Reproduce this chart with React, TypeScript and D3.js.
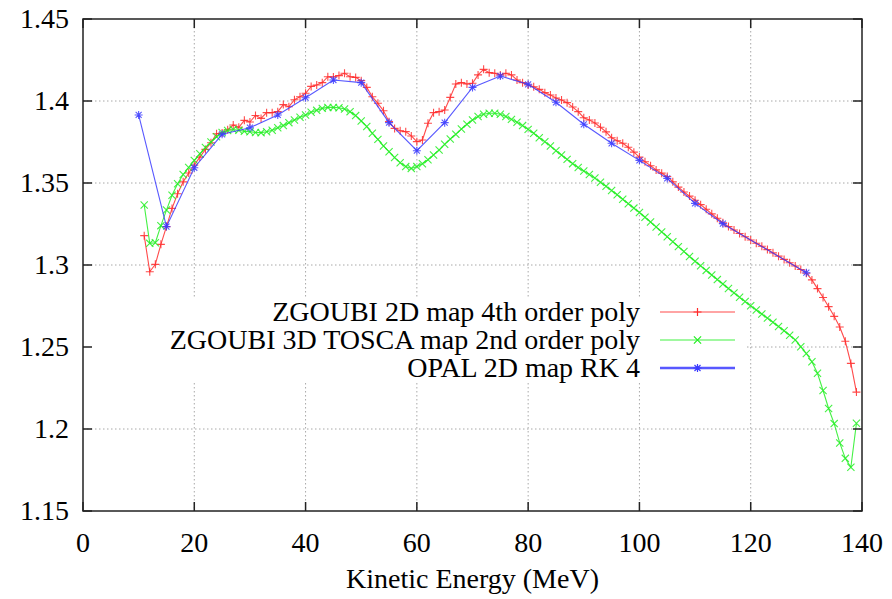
import React from "react";
import * as d3 from "d3";

const W = 892;
const H = 599;
const M = { left: 83, right: 30, top: 19, bottom: 88 };

const xTicks = [0, 20, 40, 60, 80, 100, 120, 140];
const yTicks = [1.15, 1.2, 1.25, 1.3, 1.35, 1.4, 1.45];
const yTickLabels = ["1.15", "1.2", "1.25", "1.3", "1.35", "1.4", "1.45"];

const seriesNames = [
  "ZGOUBI 2D map 4th order poly",
  "ZGOUBI 3D TOSCA map 2nd order poly",
  "OPAL 2D map RK 4",
];
const seriesColors = ["#ff2a2a", "#22ee22", "#3b3bff"];

const zgoubi2dEnergy = [
  11, 12, 13, 14, 15, 16, 17, 18, 19, 20, 21, 22, 23, 24, 25, 26, 27, 28, 29, 30,
  31, 32, 33, 34, 35, 36, 37, 38, 39, 40, 41, 42, 43, 44, 45, 46, 47, 48, 49, 50,
  51, 52, 53, 54, 55, 56, 57, 58, 59, 60, 61, 62, 63, 64, 65, 66, 67, 68, 69, 70,
  71, 72, 73, 74, 75, 76, 77, 78, 79, 80, 81, 82, 83, 84, 85, 86, 87, 88, 89, 90,
  91, 92, 93, 94, 95, 96, 97, 98, 99, 100, 101, 102, 103, 104, 105, 106, 107, 108, 109, 110,
  111, 112, 113, 114, 115, 116, 117, 118, 119, 120, 121, 122, 123, 124, 125, 126, 127, 128, 129, 130,
  131, 132, 133, 134, 135, 136, 137, 138, 139,
];
const zgoubi2dValue = [
  1.3179, 1.2959, 1.3004, 1.3126, 1.3234, 1.3345, 1.3434, 1.3507, 1.3561, 1.361,
  1.3658, 1.3705, 1.3745, 1.38, 1.3805, 1.3825, 1.3854, 1.384, 1.3882, 1.3872,
  1.3912, 1.3894, 1.3929, 1.3929, 1.3935, 1.3978, 1.3965, 1.4008, 1.4026, 1.4047,
  1.4089, 1.4098, 1.4112, 1.4148, 1.4146, 1.4155, 1.4169, 1.4148, 1.4144, 1.4124,
  1.4083, 1.4026, 1.3986, 1.3941, 1.3874, 1.3833, 1.3819, 1.3813, 1.3787, 1.3752,
  1.3762, 1.3864, 1.3929, 1.3935, 1.3945, 1.4022, 1.4104, 1.4112, 1.4104, 1.4108,
  1.4159, 1.4193, 1.4173, 1.4169, 1.4159, 1.4169, 1.4159, 1.4128, 1.4112, 1.4098,
  1.4087, 1.4071, 1.4051, 1.4037, 1.4018, 1.4006, 1.399, 1.3963, 1.3935, 1.3898,
  1.3884, 1.3866, 1.384, 1.3812, 1.3776, 1.3758, 1.3742, 1.3718, 1.3688, 1.3658,
  1.363, 1.3605, 1.358, 1.356, 1.354, 1.3508, 1.3475, 1.3445, 1.342, 1.3395,
  1.3368, 1.334, 1.3312, 1.3285, 1.3258, 1.3234, 1.3213, 1.3192, 1.3172, 1.3152,
  1.3133, 1.3114, 1.3094, 1.3074, 1.3054, 1.3034, 1.3014, 1.2994, 1.2973, 1.295,
  1.2909, 1.2856, 1.2802, 1.2746, 1.2687, 1.2622, 1.2535, 1.24, 1.2225,
];

const zgoubi3dEnergy = zgoubi2dEnergy;
const zgoubi3dValue = [
  1.3366, 1.3132, 1.3136, 1.324, 1.3335, 1.3425, 1.3495, 1.3552, 1.3595, 1.3638,
  1.3678, 1.3716, 1.375, 1.3782, 1.3808, 1.382, 1.3826, 1.3822, 1.3815, 1.3813,
  1.3808, 1.3807, 1.3812, 1.3822, 1.3837, 1.385, 1.3868, 1.3884, 1.3901, 1.3915,
  1.3931, 1.3943, 1.3955, 1.3961, 1.3961, 1.3959, 1.3951, 1.3935, 1.3911, 1.3878,
  1.3844, 1.3803, 1.3766, 1.3726, 1.3691, 1.3655, 1.3624, 1.36, 1.3589, 1.36,
  1.3617, 1.3642, 1.3671, 1.3701, 1.3736, 1.3768, 1.3797, 1.3829, 1.3858, 1.3884,
  1.3905, 1.3919, 1.3925, 1.3925, 1.3919, 1.3905, 1.3888, 1.387, 1.385, 1.3827,
  1.3803, 1.3776, 1.3752, 1.3726, 1.3697, 1.3671, 1.3644, 1.3618, 1.3594, 1.3573,
  1.3552, 1.353, 1.3505, 1.348, 1.3454, 1.3428, 1.3401, 1.3374, 1.3347, 1.332,
  1.3291, 1.3262, 1.3232, 1.3202, 1.3172, 1.3142, 1.3112, 1.3082, 1.3052, 1.3023,
  1.2995, 1.2967, 1.2939, 1.2911, 1.2884, 1.2857, 1.283, 1.2803, 1.2777, 1.2751,
  1.2726, 1.2701, 1.2676, 1.2651, 1.2625, 1.2599, 1.2572, 1.2543, 1.2502, 1.246,
  1.241, 1.234, 1.2235, 1.2125, 1.2033, 1.1915, 1.1821, 1.1767, 1.2035,
];

const opalEnergy = [
  10, 15, 20, 25, 30, 35, 40, 45, 50, 55, 60, 65, 70, 75, 80, 85, 90, 95, 100, 105, 110, 115, 130,
];
const opalValue = [
  1.3915, 1.3234, 1.3593, 1.3797, 1.3837, 1.3915, 1.402, 1.4128, 1.4112, 1.3868,
  1.3697, 1.3868, 1.4083, 1.4152, 1.4102, 1.3992, 1.3858, 1.3742, 1.3638, 1.3528,
  1.3376, 1.3252, 1.2953,
];

const markerPaths = [
  "M-4,0H4M0,-4V4",
  "M-3.6,-3.6L3.6,3.6M-3.6,3.6L3.6,-3.6",
  "M-4,0H4M0,-4V4M-3,-3L3,3M-3,3L3,-3",
];

const FONT = "Liberation Serif, Tinos, Times New Roman, Times, Nimbus Roman, DejaVu Serif, Noto Serif, serif";

export default function App() {
  const x = d3.scaleLinear().domain([0, 140]).range([M.left, W - M.right]);
  const y = d3.scaleLinear().domain([1.15, 1.45]).range([H - M.bottom, M.top]);
  const line = d3
    .line<[number, number]>()
    .x((d) => x(d[0]))
    .y((d) => y(d[1]));

  const series: [number, number][][] = [
    zgoubi2dEnergy.map((e, i) => [e, zgoubi2dValue[i]] as [number, number]),
    zgoubi3dEnergy.map((e, i) => [e, zgoubi3dValue[i]] as [number, number]),
    opalEnergy.map((e, i) => [e, opalValue[i]] as [number, number]),
  ];

  const x0 = M.left;
  const x1 = W - M.right;
  const y0 = M.top;
  const y1 = H - M.bottom;
  const tick = 9;

  const legendTextX = 640;
  const legendLineX0 = 660;
  const legendLineX1 = 735;
  const legendRowY = [312, 340, 368];

  const textStyle = { fontFamily: FONT, fontSize: "28px" } as React.CSSProperties;

  return (
    <svg
      width={W}
      height={H}
      style={{ position: "absolute", left: 0, top: 0, background: "#fff" }}
    >
      <rect x={0} y={0} width={W} height={H} fill="#fff" />
      {/* grid */}
      <g stroke="#a8a8a8" strokeWidth={1} strokeDasharray="1.5,2.5">
        {xTicks.slice(1, -1).map((t) => (
          <line key={"gx" + t} x1={x(t)} x2={x(t)} y1={y0} y2={y1} />
        ))}
        {yTicks.slice(1, -1).map((t) => (
          <line key={"gy" + t} x1={x0} x2={x1} y1={y(t)} y2={y(t)} />
        ))}
      </g>
      {/* opaque key box */}
      <rect x={x0 + 1} y={297} width={745 - x0 - 1} height={86} fill="#fff" />
      {/* series */}
      {series.map((s, i) => (
        <g key={"s" + i}>
          <path
            d={line(s) || ""}
            fill="none"
            stroke={seriesColors[i]}
            strokeWidth={1.1}
            strokeOpacity={0.85}
          />
          {s.map((d, j) => (
            <path
              key={j}
              d={markerPaths[i]}
              transform={`translate(${x(d[0])},${y(d[1])})`}
              fill="none"
              stroke={seriesColors[i]}
              strokeWidth={1.1}
              strokeOpacity={0.85}
            />
          ))}
        </g>
      ))}
      {/* legend */}
      {seriesNames.map((name, i) => (
        <g key={"l" + i}>
          <text
            x={legendTextX}
            y={legendRowY[i] + 9}
            textAnchor="end"
            style={textStyle}
            fill="#000"
          >
            {name}
          </text>
          <line
            x1={legendLineX0}
            x2={legendLineX1}
            y1={legendRowY[i]}
            y2={legendRowY[i]}
            stroke={seriesColors[i]}
            strokeWidth={i === 2 ? 2.5 : 1.2}
            strokeOpacity={0.85}
          />
          <path
            d={markerPaths[i]}
            transform={`translate(${(legendLineX0 + legendLineX1) / 2},${legendRowY[i]})`}
            fill="none"
            stroke={seriesColors[i]}
            strokeWidth={1.2}
          />
        </g>
      ))}
      {/* border + ticks */}
      <g stroke="#222" strokeWidth={1.5} fill="none">
        <rect x={x0} y={y0} width={x1 - x0} height={y1 - y0} />
        {xTicks.map((t) => (
          <g key={"tx" + t}>
            <line x1={x(t)} x2={x(t)} y1={y1} y2={y1 - tick} />
            <line x1={x(t)} x2={x(t)} y1={y0} y2={y0 + tick} />
          </g>
        ))}
        {yTicks.map((t) => (
          <g key={"ty" + t}>
            <line x1={x0} x2={x0 + tick} y1={y(t)} y2={y(t)} />
            <line x1={x1} x2={x1 - tick} y1={y(t)} y2={y(t)} />
          </g>
        ))}
      </g>
      {/* tick labels */}
      {xTicks.map((t) => (
        <text
          key={"lx" + t}
          x={x(t)}
          y={y1 + 41}
          textAnchor="middle"
          style={textStyle}
          fill="#000"
        >
          {String(t)}
        </text>
      ))}
      {yTicks.map((t, i) => (
        <text
          key={"ly" + t}
          x={x0 - 14}
          y={y(t) + 9}
          textAnchor="end"
          style={textStyle}
          fill="#000"
        >
          {yTickLabels[i]}
        </text>
      ))}
      <text
        x={(x0 + x1) / 2}
        y={588}
        textAnchor="middle"
        style={textStyle}
        fill="#000"
      >
        Kinetic Energy (MeV)
      </text>
    </svg>
  );
}
